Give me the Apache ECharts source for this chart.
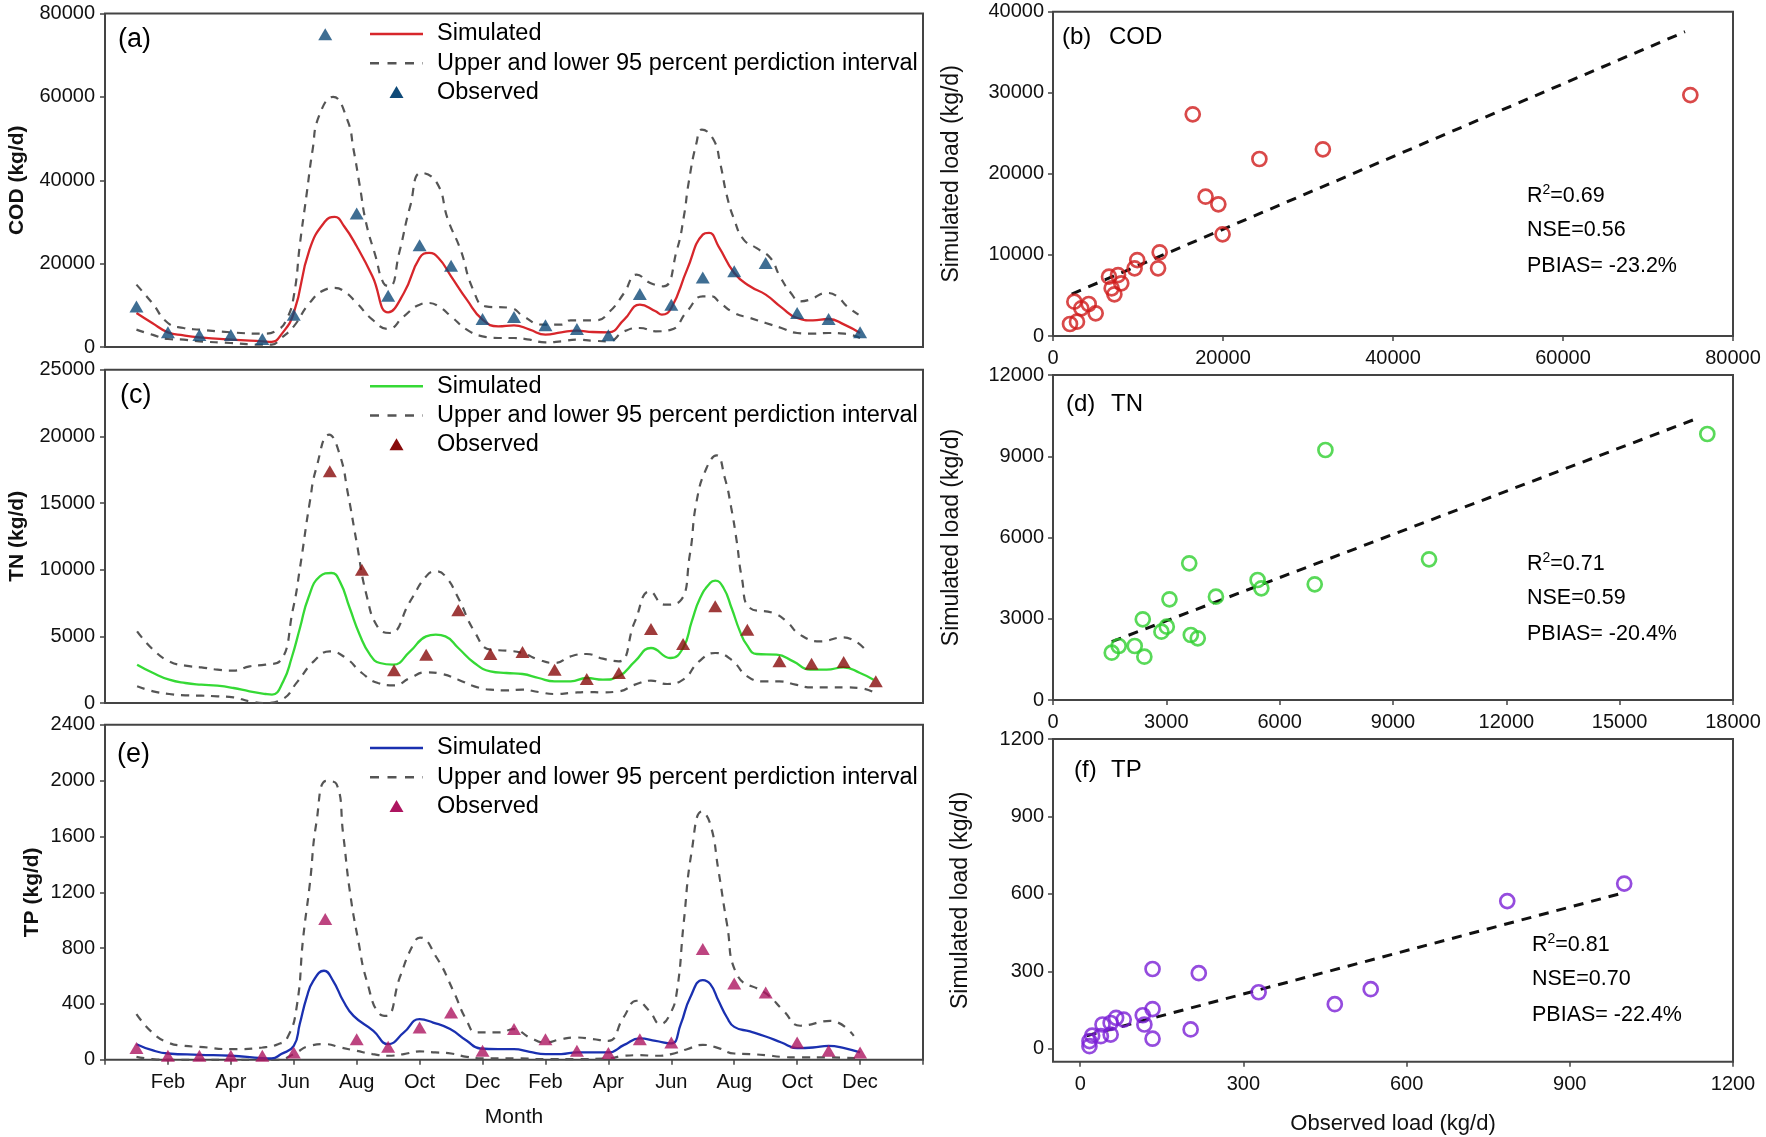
<!DOCTYPE html>
<html>
<head>
<meta charset="utf-8">
<script src="https://cdn.jsdelivr.net/npm/echarts@6/dist/echarts.min.js"></script>
<style>
html,body{margin:0;padding:0;background:#fff;}
#chart{width:1766px;height:1137px;}
</style>
</head>
<body>
<div id="chart"></div>
<script>
// ---------------- DATA ----------------
const monthTickLabels = ['Feb','Apr','Jun','Aug','Oct','Dec','Feb','Apr','Jun','Aug','Oct','Dec'];
const obsMonths = [1,2,3,4,5,6,7,8,9,10,11,12,13,14,15,16,17,18,19,20,21,22,23,24];

// (a) COD
const codObs = [9700,3520,2900,2900,1900,7760,75000,32000,12300,24400,19500,6700,7200,5200,4300,2800,12700,10160,16700,18160,20160,8160,6700,3520];
const codSimX = [1,1.5,2,2.5,3,4,5,5.3,5.6,6,6.5,7,7.3,7.6,8,8.5,9,9.5,10,10.3,10.6,11,11.5,12,12.5,13,13.5,14,14.5,15,15.5,16,16.5,17,17.5,17.7,18,18.5,19,19.2,19.5,20,20.5,21,21.5,22,22.5,23,23.5,24];
const codSimY = [8160,5760,3520,2800,2320,1760,1360,1250,2960,8160,23360,30160,31200,28960,24160,16960,8300,12960,21360,22560,21360,16960,11360,6560,4960,5200,4160,2960,3520,3920,3600,3520,6560,10160,8560,7760,9360,18560,26960,27360,24160,17760,14560,12560,9520,6960,6400,6720,5360,3360];
const codUpX = [1,1.5,2,2.5,3,4,5,5.5,5.77,6,6.2,6.4,6.6,6.8,7.25,7.7,7.9,8.1,8.3,8.6,8.85,9.05,9.35,9.7,10.05,10.55,10.9,11.3,11.7,12.1,12.9,13.3,13.9,14.5,14.8,15.6,16.05,16.5,16.9,17.33,17.75,18.18,18.4,18.55,18.8,18.97,19.34,19.55,19.77,20,20.3,20.7,21.15,21.45,21.8,22.1,22.4,22.95,23.27,23.58,23.95];
const codUpY = [14960,10560,5760,4560,4160,3520,3200,4160,6560,12160,24960,36160,47360,55360,60000,54560,47360,38560,29760,21760,15360,14560,22560,33760,41760,39360,30560,23360,13760,9760,9360,7360,5360,5360,6400,6400,8560,12960,17360,15360,14560,23360,31360,39360,48960,52160,49760,44160,36160,30560,25760,23760,21360,16960,12960,10960,11360,12960,12160,9760,7760];
const codLoX = [1,1.5,2,2.5,3,4,5,5.3,5.6,6,6.5,7,7.3,7.6,8,8.5,9,9.5,10,10.3,10.6,11,11.5,12,12.5,13,13.5,14,14.5,15,15.5,16,16.5,17,17.5,18,18.5,19,19.3,19.5,20,20.5,21,21.5,22,22.5,23,23.5,24];
const codLoY = [4160,2960,1920,1760,1360,960,560,560,2160,4960,10560,13760,14160,13360,10560,6560,4320,7360,10160,10560,9760,7360,4160,2560,2160,2160,1760,1120,1360,1760,1520,1360,3760,4560,3760,4160,8560,12160,12160,10960,8160,6960,5760,4560,3360,3200,3360,3200,2160];

// (c) TN
const tnObsMonths = [7,8,9,10,11,12,13,14,15,16,17,18,19,20,21,22,23,24];
const tnObs = [17375,10000,2450,3625,6950,3675,3825,2500,1800,2250,5550,4425,7250,5500,3125,2950,3075,1625];
const tnSimX = [1,1.5,2,2.5,3,3.5,4,4.5,5,5.2,5.55,5.81,6.07,6.33,6.69,7.05,7.31,7.62,7.93,8.25,8.56,8.97,9.5,10,10.3,10.6,11,11.5,12,12.5,13,13.5,14,14.5,15,15.5,16,16.5,17,17.6,18,18.27,18.53,18.84,19,19.26,19.51,19.77,19.98,20.29,20.91,21.43,21.95,22.47,22.99,23.51,23.93];
const tnSimY = [2875,2250,1750,1500,1375,1300,1125,875,675,625,1625,3375,5625,7875,9500,9750,9125,7125,5125,3625,3000,2875,3875,5000,5125,5000,4125,3000,2375,2250,2175,1875,1625,1625,1875,1750,2000,3125,4125,3375,4125,6125,7875,9000,9175,8625,7125,5375,4375,3675,3625,3125,2500,2500,2675,2250,1750];
const tnUpX = [1,1.5,2,2.5,3,3.5,4,4.5,5,5.44,5.86,6.07,6.38,6.58,6.98,7.31,7.57,7.83,8.14,8.51,8.87,9.5,10,10.3,10.6,11,11.5,12,12.5,13,13.5,14,14.5,15,15.5,16,16.5,16.97,17.43,17.9,18.21,18.42,18.73,19.04,19.3,19.5,19.67,19.83,20.08,20.81,21.22,21.64,22.27,22.99,23.72];
const tnUpY = [5375,4000,3125,2800,2675,2500,2425,2750,2875,3125,7125,10125,15125,17625,20125,18625,15625,12125,8125,5625,5250,7625,9500,9875,9500,7875,5375,4000,3925,3750,3250,3000,3500,3675,3325,3125,6125,8375,7375,7625,11125,15125,17625,18575,16875,14625,12125,9375,7125,6750,6125,5125,4625,4925,3875];
const tnLoX = [1,1.5,2,2.5,3,3.5,4,4.5,5,5.5,6,6.5,7,7.5,8,8.5,9,9.5,10,10.5,11,11.5,12,12.5,13,13.5,14,14.5,15,15.5,16,16.5,17,17.5,18,18.5,19,19.5,20,20.5,21,21.5,22,22.5,23,23.5,23.93];
const tnLoY = [1250,875,675,575,550,500,425,125,0,250,1625,3125,3875,3375,2250,1500,1325,1875,2300,2175,1750,1250,1000,950,1000,825,675,750,825,800,875,1375,1675,1425,1750,3125,3750,3250,2000,1625,1625,1375,1175,1175,1175,1125,825];

// (e) TP
const tpObs = [84,29,29,29,29,53,1008,148,93,232,339,64,220,148,64,48,148,124,793,547,482,124,64,53];
const tpSimX = [1,1.5,2,3,4,5,5.3,5.6,6,6.19,6.41,6.62,6.96,7.25,7.57,7.9,8.53,9,9.5,10,10.43,10.97,11.5,11.92,12.5,13,13.5,14,14.5,15,15.5,16,16.5,17,17.5,18,18.3,18.6,19,19.24,19.5,19.77,20,20.5,21,21.5,22,22.5,23,23.5,24];
const tpSimY = [112,69,45,36,29,12,10,41,100,256,447,566,638,566,423,315,208,112,196,291,267,220,136,81,76,76,57,41,41,53,53,53,107,153,136,117,256,447,571,542,423,303,236,203,167,124,84,88,100,84,53];
const tpUpX = [1,1.5,2,2.5,3,4,5,5.5,5.8,6.09,6.3,6.51,6.72,7.04,7.36,7.57,7.78,8.05,8.32,8.74,8.95,9.37,9.8,10.01,10.54,11.07,11.5,11.81,12.56,12.98,13.5,14,14.5,15,15.5,16,16.48,16.9,17.3,17.65,17.96,18.18,18.39,18.65,18.97,19.24,19.5,19.77,20.08,21.04,21.57,22.1,23.05,23.8];
const tpUpY = [327,196,124,100,93,76,88,112,160,375,876,1258,1700,1999,1975,1617,1211,853,566,327,315,590,829,876,733,494,279,196,196,220,160,124,148,160,148,136,303,423,351,256,327,494,972,1497,1779,1688,1354,972,614,470,351,244,279,172];
const tpLoX = [1,1.5,2,3,4,5,5.5,6,6.5,7,7.5,8,8.5,9,9.5,10,10.5,11,11.5,12,13,14,15,16,16.5,17,17.5,18,18.5,19,19.5,20,20.5,21,21.5,22,23,24];
const tpLoY = [21,5,0,0,0,0,0,41,100,112,88,64,41,29,41,60,53,45,21,10,10,5,5,10,29,33,29,41,76,107,84,45,41,33,21,17,17,10];

// (b) COD scatter
const codScObs = [74980,16440,31750,24280,17950,19450,19950,12550,12360,9910,9600,6590,7650,8030,7220,6900,4200,2510,3330,5020,2820,2000];
const codScSim = [29720,27340,23020,21830,17180,16240,12540,10320,8350,9370,8350,7320,7520,6500,5140,5880,3950,4230,3410,2800,1770,1480];
const codFit = {slope:0.4484, intercept:4193, from:2200, to:74350};
const codStats = ['0.69','0.56','-23.2%'];

// (d) TN scatter
const tnScObs = [17320,7211,9954,3606,5416,5515,6928,4313,3083,2376,3012,2870,3648,3832,2163,1739,1555,2418];
const tnScSim = [9822,9231,5194,5046,4431,4123,4271,3815,3717,2978,2708,2523,2400,2277,1994,1994,1748,1600];
const tnFit = {slope:0.532, intercept:1327, from:1555, to:16940};
const tnStats = ['0.71','0.59','-20.4%'];

// (f) TP scatter
const tpScObs = [1000,785,534,468,328,218,133,203,133,133,115,118,80,66,56,41,56,38,17,17,22];
const tpScSim = [640,572,231,173,219,293,309,75,154,39,130,94,113,120,100,94,55,49,30,10,51];
const tpFit = {slope:0.561, intercept:44, from:12, to:994};
const tpStats = ['0.81','0.70','-22.4%'];

const legendLabels = ['Simulated', 'Upper and lower 95 percent perdiction interval', 'Observed'];

// ---------------- BUILD ----------------
const FONT = '"Liberation Sans", Arial, Helvetica, sans-serif';
const pairs = (xs, ys) => xs.map((x, i) => [x, ys[i]]);
const fitLine = f => [[f.from, f.slope*f.from + f.intercept], [f.to, f.slope*f.to + f.intercept]];
const FRAME = '#444';
const BAND_COLOR = '#555';

const gridBase = {show:true, borderColor:FRAME, borderWidth:2, backgroundColor:'rgba(0,0,0,0)'};
const grids = [
  {left:105, top:13.5, width:818, height:333.5},
  {left:105, top:369.7, width:818, height:333.3},
  {left:105, top:724.8, width:818, height:335},
  {left:1053, top:11.7, width:680, height:324.3},
  {left:1053, top:375, width:680, height:325},
  {left:1053, top:739, width:680, height:322.7}
].map(g => Object.assign({}, gridBase, g));

const tick = {show:true, inside:false, length:5, lineStyle:{color:FRAME, width:1.5}};
const noLine = {show:false, onZero:false};
const plain = v => String(v);
const lab = (extra) => Object.assign({fontSize:20, color:'#111', fontFamily:FONT, formatter:plain}, extra||{});

const xAxes = [
  {gridIndex:0, type:'value', min:0, max:26, interval:2, axisLine:noLine, axisTick:{show:false}, axisLabel:{show:false}, splitLine:{show:false}},
  {gridIndex:1, type:'value', min:0, max:25.47, axisLine:noLine, axisTick:{show:false}, axisLabel:{show:false}, splitLine:{show:false}},
  {gridIndex:2, type:'value', min:0, max:26, interval:2, axisLine:noLine, axisTick:tick, splitLine:{show:false},
    axisLabel:lab({margin:13, formatter: v => (v >= 2 && v <= 24) ? monthTickLabels[v/2 - 1] : ''}),
    name:'Month', nameLocation:'middle', nameGap:47, nameTextStyle:{fontSize:21, color:'#111', fontFamily:FONT}},
  {gridIndex:3, type:'value', min:0, max:80000, interval:20000, axisLine:noLine, axisTick:tick, splitLine:{show:false}, axisLabel:lab({margin:12})},
  {gridIndex:4, type:'value', min:0, max:18000, interval:3000, axisLine:noLine, axisTick:tick, splitLine:{show:false}, axisLabel:lab({margin:12})},
  {gridIndex:5, type:'value', min:-50, max:1200, axisLine:noLine, splitLine:{show:false},
    axisTick:Object.assign({customValues:[0,300,600,900,1200]}, tick),
    axisLabel:lab({margin:13, customValues:[0,300,600,900,1200]}),
    name:'Observed load (kg/d)', nameLocation:'middle', nameGap:51, nameTextStyle:{fontSize:22, color:'#111', fontFamily:FONT}}
];

const yName = (name, gap, size, weight) => ({name:name, nameLocation:'middle', nameGap:gap,
  nameTextStyle:{fontSize:size, fontWeight:weight||'normal', color:'#111', fontFamily:FONT}});
const yAxes = [
  Object.assign({gridIndex:0, type:'value', min:0, max:80000, interval:20000, axisLine:noLine, axisTick:tick, splitLine:{show:false}, axisLabel:lab({margin:10})}, yName('COD (kg/d)', 77, 21, 'bold')),
  Object.assign({gridIndex:1, type:'value', min:0, max:25000, interval:5000, axisLine:noLine, axisTick:tick, splitLine:{show:false}, axisLabel:lab({margin:10})}, yName('TN (kg/d)', 77, 21, 'bold')),
  Object.assign({gridIndex:2, type:'value', min:0, max:2400, interval:400, axisLine:noLine, axisTick:tick, splitLine:{show:false}, axisLabel:lab({margin:10})}, yName('TP (kg/d)', 62, 21, 'bold')),
  Object.assign({gridIndex:3, type:'value', min:0, max:40000, interval:10000, axisLine:noLine, axisTick:tick, splitLine:{show:false}, axisLabel:lab({margin:9})}, yName('Simulated load (kg/d)', 90, 23)),
  Object.assign({gridIndex:4, type:'value', min:0, max:12000, interval:3000, axisLine:noLine, axisTick:tick, splitLine:{show:false}, axisLabel:lab({margin:9})}, yName('Simulated load (kg/d)', 90, 23)),
  Object.assign({gridIndex:5, type:'value', min:-50, max:1200, axisLine:noLine, splitLine:{show:false},
    axisTick:Object.assign({customValues:[0,300,600,900,1200]}, tick),
    axisLabel:lab({margin:9, customValues:[0,300,600,900,1200]})}, yName('Simulated load (kg/d)', 81, 23))
];

const BAND = {color:BAND_COLOR, width:2.2, type:[8,7]};
const SMOOTH = 0.5;
function tsSeries(idx, simColor, obsColor, sim, up, lo, obs) {
  const base = {xAxisIndex:idx, yAxisIndex:idx, animation:false};
  return [
    Object.assign({}, base, {type:'line', name:legendLabels[1], data:up, smooth:SMOOTH, symbol:'none', lineStyle:BAND, itemStyle:{color:BAND_COLOR}, z:2}),
    Object.assign({}, base, {type:'line', name:legendLabels[1], data:lo, smooth:SMOOTH, symbol:'none', lineStyle:BAND, itemStyle:{color:BAND_COLOR}, z:2}),
    Object.assign({}, base, {type:'line', name:legendLabels[0], data:sim, smooth:SMOOTH, symbol:'none', lineStyle:{color:simColor, width:2.3}, itemStyle:{color:simColor}, z:3}),
    Object.assign({}, base, {type:'scatter', name:legendLabels[2], data:obs, symbol:'triangle', symbolSize:[14,12], itemStyle:{color:obsColor}, z:4})
  ];
}
function scSeries(idx, color, obs, sim, fit) {
  const base = {xAxisIndex:idx, yAxisIndex:idx, animation:false};
  return [
    Object.assign({}, base, {type:'line', name:'fit'+idx, data:fitLine(fit), symbol:'none', lineStyle:{color:'#111', width:3, type:[10,8]}, z:2}),
    Object.assign({}, base, {type:'scatter', name:'pts'+idx, data:pairs(obs, sim), symbol:'circle', symbolSize:14,
      itemStyle:{color:'rgba(255,255,255,0)', borderColor:color, borderWidth:2.7}, z:3})
  ];
}

const panelColors = [['#d7262b','#0f4a78'], ['#35d935','#870a0a'], ['#1a30b0','#ad1560']];
const series = [].concat(
  tsSeries(0, panelColors[0][0], panelColors[0][1], pairs(codSimX, codSimY), pairs(codUpX, codUpY), pairs(codLoX, codLoY), pairs(obsMonths, codObs)),
  tsSeries(1, panelColors[1][0], panelColors[1][1], pairs(tnSimX, tnSimY), pairs(tnUpX, tnUpY), pairs(tnLoX, tnLoY), pairs(tnObsMonths, tnObs)),
  tsSeries(2, panelColors[2][0], panelColors[2][1], pairs(tpSimX, tpSimY), pairs(tpUpX, tpUpY), pairs(tpLoX, tpLoY), pairs(obsMonths, tpObs)),
  scSeries(3, '#d01c1c', codScObs, codScSim, codFit),
  scSeries(4, '#2fcf2f', tnScObs, tnScSim, tnFit),
  scSeries(5, '#7a1fd6', tpScObs, tpScSim, tpFit)
);

function txt(x, y, text, size) {
  return {type:'text', x:x, y:y, silent:true, z:10,
    style:{text:text, fontSize:size, fontFamily:FONT, fill:'#000', align:'left', verticalAlign:'middle'}};
}
// legend drawn as graphic (line sample, dashed sample, triangle)
function legendBlock(y0, simColor, obsColor) {
  const dy = 29.2, x0 = 370, x1 = 423, tx = 437, cx = 396.5;
  const y1 = y0 + dy, y2 = y0 + 2*dy;
  return [
    {type:'line', silent:true, shape:{x1:x0, y1:y0, x2:x1, y2:y0}, style:{stroke:simColor, lineWidth:2.5}},
    {type:'line', silent:true, shape:{x1:x0, y1:y1, x2:x1, y2:y1}, style:{stroke:BAND_COLOR, lineWidth:2.4, lineDash:[9,8.5]}},
    {type:'polygon', silent:true, shape:{points:[[cx, y2-6.5],[cx+7, y2+5.5],[cx-7, y2+5.5]]}, style:{fill:obsColor}},
    txt(tx, y0, legendLabels[0], 23.5), txt(tx, y1, legendLabels[1], 23.5), txt(tx, y2, legendLabels[2], 23.5)
  ];
}
function stats(x, y0, s) {
  const r = {type:'text', x:x, y:y0, silent:true,
    style:{text:'{m|R}{s|2}{m|=' + s[0] + '}', fontFamily:FONT, fill:'#000', align:'left', verticalAlign:'middle',
      rich:{m:{fontSize:21.5, fontFamily:FONT, lineHeight:24, verticalAlign:'bottom'}, s:{fontSize:14, fontFamily:FONT, lineHeight:14, verticalAlign:'top'}}}};
  return [r, txt(x, y0 + 35, 'NSE=' + s[1], 21.5), txt(x, y0 + 71, 'PBIAS= ' + s[2], 21.5)];
}

const graphics = [
  txt(118, 40, '(a)', 27), txt(120, 396, '(c)', 27), txt(117, 755, '(e)', 27),
  txt(1062, 37.5, '(b)', 24), txt(1109, 37.5, 'COD', 24),
  txt(1066, 404, '(d)', 24), txt(1111, 404, 'TN', 24),
  txt(1074, 770, '(f)', 24), txt(1111, 770, 'TP', 24)
].concat(
  legendBlock(34, panelColors[0][0], panelColors[0][1]),
  legendBlock(386.3, panelColors[1][0], panelColors[1][1]),
  legendBlock(748, panelColors[2][0], panelColors[2][1]),
  stats(1527, 195, codStats), stats(1527, 563, tnStats), stats(1532, 944, tpStats)
);

const chart = echarts.init(document.getElementById('chart'), null, {renderer:'canvas'});
chart.setOption({
  backgroundColor:'#fff',
  animation:false,
  textStyle:{fontFamily:FONT},
  grid:grids, xAxis:xAxes, yAxis:yAxes, series:series,
  graphic:graphics
});
</script>
</body>
</html>
